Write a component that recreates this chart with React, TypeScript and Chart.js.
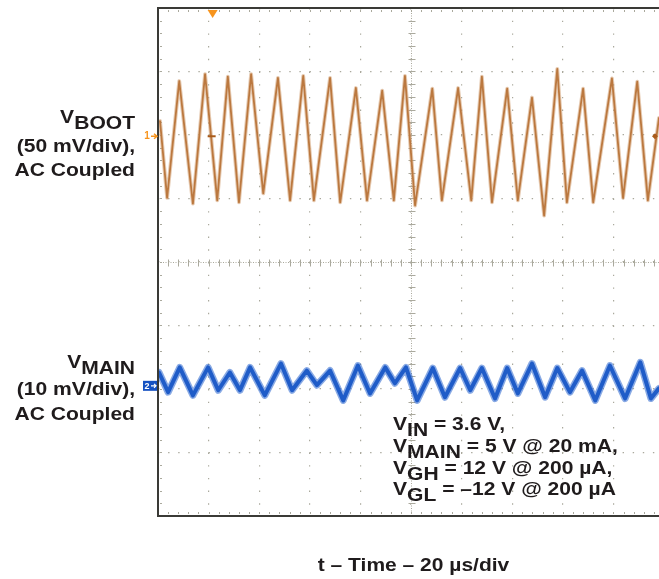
import { useEffect, useRef } from 'react';
import { Chart, registerables } from 'chart.js';

Chart.register(...registerables);

// Times are in screen divisions (20 µs/div), trace positions in vertical divisions from screen centre
const BOOT_TIME = [0.04, 0.18, 0.42, 0.69, 0.93, 1.17, 1.38, 1.6, 1.84, 2.08, 2.37, 2.61, 2.87, 3.08, 3.4, 3.6, 3.91, 4.13, 4.43, 4.66, 4.88, 5.08, 5.42, 5.61, 5.93, 6.19, 6.4, 6.6, 6.9, 7.11, 7.39, 7.63, 7.89, 8.08, 8.4, 8.6, 8.97, 9.19, 9.47, 9.68, 9.9];
const BOOT_POS = [2.22, 1.01, 2.85, 0.92, 2.96, 0.97, 2.92, 0.94, 2.96, 1.08, 2.9, 0.97, 2.93, 0.97, 2.9, 0.94, 2.74, 0.97, 2.7, 0.97, 2.93, 0.89, 2.73, 0.97, 2.74, 0.97, 2.92, 0.94, 2.73, 0.97, 2.59, 0.73, 3.04, 0.94, 2.73, 0.94, 2.89, 1.01, 2.84, 0.97, 2.27];

const MAIN_TIME = [0.02, 0.2, 0.43, 0.69, 0.99, 1.19, 1.42, 1.62, 1.82, 2.11, 2.43, 2.65, 2.94, 3.14, 3.4, 3.66, 3.95, 4.19, 4.49, 4.68, 4.9, 5.12, 5.43, 5.67, 5.97, 6.17, 6.4, 6.66, 6.9, 7.11, 7.39, 7.65, 7.89, 8.14, 8.38, 8.64, 8.93, 9.23, 9.53, 9.74, 9.9];
const MAIN_POS = [-1.74, -2.05, -1.66, -2.1, -1.66, -2.02, -1.74, -2.02, -1.66, -2.1, -1.6, -2.02, -1.71, -1.94, -1.71, -2.18, -1.63, -2.07, -1.66, -1.91, -1.66, -2.18, -1.67, -2.13, -1.67, -2.02, -1.67, -2.15, -1.67, -2.07, -1.6, -2.13, -1.67, -2.05, -1.71, -2.18, -1.63, -2.15, -1.58, -2.15, -1.99];

const CH1_REF = 1.98;
const CH2_REF = -1.95;
const TRIG_TIME = 1.08;
const TRIG_LEVEL = 1.98;

const FONT = '"Liberation Sans", Arial, Helvetica, sans-serif';
const INK = '#1f1b1c';
const ORANGE = '#f7941d';
const BOOT_COLOR = '#a95b1a';
const BOOT_HALO = 'rgba(205,150,100,0.5)';
const MAIN_COLOR = '#1652c2';
const MAIN_HALO = 'rgba(40,100,205,0.55)';
const GRID = '#aaa99d';

const W = 659;
const H = 579;

const scopePlugin = {
    id: 'scope',
    beforeDatasetsDraw(chart: any) {
        const { ctx, chartArea: a, scales } = chart;
        const xs = scales.x;
        const ys = scales.y;
        const cx = Math.round(xs.getPixelForValue(5)) + 0.5;
        const cy = Math.round(ys.getPixelForValue(0)) + 0.5;
        ctx.save();
        ctx.strokeStyle = GRID;
        ctx.lineWidth = 1;
        ctx.setLineDash([1, 1.5]);
        ctx.beginPath();
        ctx.moveTo(cx, a.top); ctx.lineTo(cx, a.bottom);
        ctx.moveTo(a.left, cy); ctx.lineTo(a.right, cy);
        ctx.stroke();
        ctx.setLineDash([]);
        ctx.beginPath();
        for (let v = 0.2; v < xs.max; v += 0.2) {
            const px = Math.round(xs.getPixelForValue(v)) + 0.5;
            ctx.moveTo(px, cy - 3); ctx.lineTo(px, cy + 4);
            ctx.moveTo(px, a.top + 2); ctx.lineTo(px, a.top + 4);
            ctx.moveTo(px, a.bottom - 4); ctx.lineTo(px, a.bottom - 2);
        }
        for (let v = -3.8; v < 3.9; v += 0.2) {
            const py = Math.round(ys.getPixelForValue(v)) + 0.5;
            ctx.moveTo(cx - 3, py); ctx.lineTo(cx + 4, py);
            ctx.moveTo(a.left + 2, py); ctx.lineTo(a.left + 4, py);
        }
        ctx.stroke();
        ctx.restore();
    },
    afterDatasetsDraw(chart: any) {
        const { ctx, chartArea: a, scales } = chart;
        const xs = scales.x;
        const ys = scales.y;
        ctx.save();
        // frame
        ctx.strokeStyle = '#3a3a36';
        ctx.lineWidth = 2;
        ctx.beginPath();
        ctx.moveTo(a.right, a.top);
        ctx.lineTo(a.left, a.top);
        ctx.lineTo(a.left, a.bottom);
        ctx.lineTo(a.right, a.bottom);
        ctx.stroke();

        const tx = xs.getPixelForValue(TRIG_TIME);
        const ty = ys.getPixelForValue(TRIG_LEVEL);
        // trigger position marker
        ctx.fillStyle = ORANGE;
        ctx.beginPath();
        ctx.moveTo(tx - 5, a.top + 2);
        ctx.lineTo(tx + 5, a.top + 2);
        ctx.lineTo(tx, a.top + 10);
        ctx.closePath();
        ctx.fill();
        // trigger point + level markers
        ctx.strokeStyle = BOOT_COLOR;
        ctx.lineWidth = 2;
        ctx.beginPath();
        ctx.moveTo(tx - 5, ty); ctx.lineTo(tx + 3, ty);
        ctx.stroke();
        ctx.fillStyle = BOOT_COLOR;
        ctx.beginPath();
        ctx.moveTo(a.right - 7, ty);
        ctx.lineTo(a.right - 4, ty - 3);
        ctx.lineTo(a.right - 1, ty);
        ctx.lineTo(a.right - 4, ty + 3);
        ctx.closePath();
        ctx.fill();

        // channel 1 reference
        const y1 = ys.getPixelForValue(CH1_REF);
        ctx.fillStyle = ORANGE;
        ctx.font = `bold 10px ${FONT}`;
        ctx.textAlign = 'center';
        ctx.textBaseline = 'middle';
        ctx.fillText('1', a.left - 11, y1);
        ctx.strokeStyle = ORANGE;
        ctx.lineWidth = 1.5;
        ctx.beginPath();
        ctx.moveTo(a.left - 7, y1); ctx.lineTo(a.left - 1, y1);
        ctx.moveTo(a.left - 4, y1 - 2.5); ctx.lineTo(a.left - 1, y1); ctx.lineTo(a.left - 4, y1 + 2.5);
        ctx.stroke();

        // channel 2 reference
        const y2 = ys.getPixelForValue(CH2_REF);
        ctx.fillStyle = MAIN_COLOR;
        ctx.fillRect(a.left - 15, y2 - 5, 14, 10);
        ctx.fillStyle = '#ffffff';
        ctx.font = `bold 9px ${FONT}`;
        ctx.fillText('2', a.left - 11, y2 + 0.5);
        ctx.strokeStyle = '#ffffff';
        ctx.lineWidth = 1.2;
        ctx.beginPath();
        ctx.moveTo(a.left - 7, y2); ctx.lineTo(a.left - 2, y2);
        ctx.moveTo(a.left - 4, y2 - 2); ctx.lineTo(a.left - 2, y2); ctx.lineTo(a.left - 4, y2 + 2);
        ctx.stroke();
        ctx.restore();
    },
};

function TextLine({ base, left, right, children, size = 18, stretch = 1.17 }: any) {
    const lh = Math.round(size * 1.34);
    const top = base - ((lh - size * 1.117) / 2 + size * 0.905);
    return (
        <div
            style={{
                position: 'absolute',
                top,
                left,
                right,
                font: `bold ${size}px ${FONT}`,
                lineHeight: `${lh}px`,
                color: INK,
                whiteSpace: 'nowrap',
                transform: `scaleX(${stretch})`,
                transformOrigin: right !== undefined ? 'right center' : 'left center',
            }}
        >
            {children}
        </div>
    );
}

const Sub = ({ children }: any) => <span style={{ verticalAlign: '-6px' }}>{children}</span>;

export default function App() {
    const canvasRef = useRef<HTMLCanvasElement>(null);

    useEffect(() => {
        if (!canvasRef.current) return;
        const boot = BOOT_TIME.map((t, i) => ({ x: t, y: BOOT_POS[i] }));
        const main = MAIN_TIME.map((t, i) => ({ x: t, y: MAIN_POS[i] }));
        const trace = { pointRadius: 0, tension: 0, borderJoinStyle: 'round' as const, borderCapStyle: 'round' as const };
        const chart = new Chart(canvasRef.current, {
            type: 'line',
            data: {
                datasets: [
                    { ...trace, label: 'VBOOT halo', data: boot, borderColor: BOOT_HALO, borderWidth: 3.8 },
                    { ...trace, label: 'VBOOT', data: boot, borderColor: BOOT_COLOR, borderWidth: 1.8 },
                    { ...trace, label: 'VMAIN halo', data: main, borderColor: MAIN_HALO, borderWidth: 7 },
                    { ...trace, label: 'VMAIN', data: main, borderColor: MAIN_COLOR, borderWidth: 4 },
                ],
            },
            options: {
                responsive: false,
                animation: false,
                layout: { padding: { left: 158, top: 8, right: 0, bottom: 63 } },
                plugins: { legend: { display: false }, tooltip: { enabled: false } },
                scales: {
                    x: {
                        type: 'linear',
                        min: 0,
                        max: 9.9,
                        ticks: { display: false, stepSize: 1, includeBounds: false },
                        grid: { color: GRID, lineWidth: 1.2, drawTicks: false },
                        border: { display: false, dash: [1.4, 11.3] },
                    },
                    y: {
                        type: 'linear',
                        min: -4,
                        max: 4,
                        ticks: { display: false, stepSize: 1 },
                        grid: { color: GRID, lineWidth: 1.2, drawTicks: false },
                        border: { display: false, dash: [1.4, 8.7] },
                    },
                },
            },
            plugins: [scopePlugin],
        });
        return () => { chart.destroy(); };
    }, []);

    return (
        <div style={{ position: 'fixed', left: 0, top: 0, width: W, height: H, background: '#fff', overflow: 'hidden' }}>
            <canvas ref={canvasRef} width={W} height={H} style={{ position: 'absolute', left: 0, top: 0 }} />

            <TextLine base={123.3} right={W - 135}>V<Sub>BOOT</Sub></TextLine>
            <TextLine base={152.3} right={W - 135}>(50 mV/div),</TextLine>
            <TextLine base={176.7} right={W - 135}>AC Coupled</TextLine>

            <TextLine base={368.3} right={W - 135}>V<Sub>MAIN</Sub></TextLine>
            <TextLine base={395} right={W - 135}>(10 mV/div),</TextLine>
            <TextLine base={420.3} right={W - 135}>AC Coupled</TextLine>

            <TextLine base={430} left={393}>V<Sub>IN</Sub> = 3.6 V,</TextLine>
            <TextLine base={452.5} left={393}>V<Sub>MAIN</Sub> = 5 V @ 20 mA,</TextLine>
            <TextLine base={474} left={393}>V<Sub>GH</Sub> = 12 V @ 200 µA,</TextLine>
            <TextLine base={495.5} left={393}>V<Sub>GL</Sub> = –12 V @ 200 µA</TextLine>

            <div
                style={{
                    position: 'absolute',
                    left: 0,
                    width: 827,
                    top: 571.5 - 16.1,
                    textAlign: 'center',
                    font: `bold 17.5px ${FONT}`,
                    lineHeight: '20px',
                    color: INK,
                    whiteSpace: 'nowrap',
                    transform: 'scaleX(1.2)',
                }}
            >
                t – Time – 20 µs/div
            </div>
        </div>
    );
}
